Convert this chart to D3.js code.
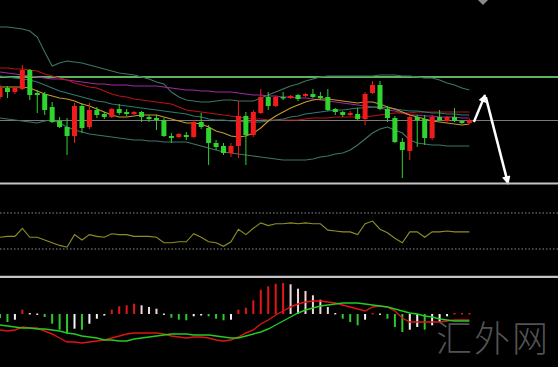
<!DOCTYPE html>
<html><head><meta charset="utf-8">
<script src="https://cdn.jsdelivr.net/npm/d3@7"></script>
<style>html,body{margin:0;padding:0;background:#000;}svg{display:block;}</style>
</head><body>
<svg id="c" width="558" height="367"></svg>
<script>
// ---- Candles (price units) ----
const open  = [103,112,108,111,130,107,106,93,79,73,64,94,73,90,86,83,91,88,86,88,83,82,80,64,63,65,63,78,72,57,54,47,54,84,65,87,103,94,103,102,105,104,106,104,103,91,88,85,86,81,107,115,91,82,58,49,83,81,62,83,79,83,79,77];
const high  = [115,114,113,135,131,110,108,98,83,82,97,97,97,93,88,92,96,91,89,89,85,85,82,67,67,68,80,87,75,60,57,57,99,88,90,111,108,104,108,105,106,107,111,108,111,92,89,89,92,108,119,119,94,84,62,85,85,85,85,90,84,92,80,81];
const low   = [101,102,106,110,100,87,85,77,72,45,57,67,71,82,81,82,85,84,85,78,78,70,63,57,62,60,62,71,35,50,45,43,42,35,63,86,90,93,100,101,99,103,102,100,89,85,83,84,80,75,106,90,78,57,22,40,53,55,60,79,78,78,76,76];
const close = [112,108,112,130,105,105,90,78,73,64,94,72,90,85,83,91,87,86,88,83,81,80,64,62,66,63,78,73,57,53,47,54,84,65,88,103,94,103,102,104,101,106,103,102,90,88,85,87,81,106,115,91,82,58,50,83,80,62,83,80,83,79,77,80];

// ---- Bands and moving averages ----
const bollUpper = [173,173,172,171,169,163,148,134,137,139,138,137,135,133,131,129,127,126,125,123,121,118,116,108,103,100,99,98,98,99,100,100,99,99,99,102,105,108,111,114,116,119,121,123,124,124,124,124,124,124,124,125,125,125,124,124,123,122,122,120,117,115,112,110];
const bollLower = [82,81,80,79,78,77,79,80,77,73,70,68,66,65,64,63,62,61,60,60,59,59,58,58,58,58,56,54,52,50,48,47,46,45,44,43,42,41,40,40,40,40,41,43,44,46,47,50,55,61,67,71,73,70,67,60,57,56,55,55,54,54,54,54];
const maRed    = [132,132,131,131,130,129,126,124,122,120,117,115,113,112,109,106,104,103,101,100,99,98,97,96,93,90,89,88,87,86,85,84,83,82,81,81,80,80,80,80,80,81,82,82,82,83,83,83,83,83,84,85,86,87,87,87,88,88,88,88,88,88,88,88];
const maPurple = [128,127,126,125,124,123,122,121,121,120,119,118,117,116,116,115,115,115,114,114,114,114,113,112,111,110,110,109,109,108,108,108,107,106,105,105,104,104,103,103,102,102,101,100,99,98,97,96,95,94,93,92,90,89,87,85,85,84,84,83,83,83,82,82];
const maTeal   = [124,123,122,121,120,118,115,112,109,107,105,103,101,99,98,96,95,94,93,92,91,90,89,88,87,86,84,83,81,80,80,79,79,78,78,78,79,80,81,83,84,86,87,88,89,90,90,91,92,92,93,93,92,91,90,89,89,88,87,87,86,86,85,85];
const maOrange = [113,113,113,113,112,109,106,104,102,101,99,96,94,91,88,85,83,83,84,85,85,85,83,81,79,77,77,76,73,69,67,64,63,64,67,72,79,84,88,92,95,98,100,101,101,100,99,98,97,98,98,96,93,91,88,85,83,81,79,78,77,76,75,76];

const resistLevel = 123;   // green horizontal
const lastPriceLevel = 79.5; // gray horizontal

// ---- RSI ----
const rsi = [43,44,44,53,43,43,40,37,34,32,46,40,46,44,43,47,46,46,44,44,44,43,37,37,38,38,47,43,38,37,33,38,52,46,53,59,56,58,58,59,58,59,58,58,51,50,49,49,46,58,61,52,48,42,37,49,49,43,49,49,50,49,49,49];
const rsiLevels = [70,30];

// ---- MACD ----
const macdHist = [-4,-8,-5.7,4.3,1,0.5,-3,-9.7,-15.7,-19.7,-14.7,-15.7,-9.7,-4.7,-1.5,4.3,7.7,8.7,10.3,8.7,7,5.3,0.5,-3.7,-5.7,-6.3,-2.3,-0.5,-2.3,-4.7,-6.3,-5.7,4.3,6.3,13.7,24.3,27.7,30.3,31,29.7,25.3,23,18.7,14.3,7,1,-4.7,-8,-11.3,-5.7,1,0.5,-4.7,-13,-18,-15.7,-13,-15.7,-11.3,-8,-2.3,1,1,1];
const macdDif = [-16,-17,-16,-13,-14,-14,-17,-20,-24,-28,-28,-29,-28,-27,-26,-24,-22,-20,-19,-19,-19,-19,-20,-22,-23,-24,-23,-23,-24,-26,-27,-26,-23,-19,-16,-10,-6,-1,3,7,10,12,13,13,12,11,9,7,5,3,7,8,7,3,-4,-8,-8,-8,-8,-8,-7,-6,-6,-6];
const macdDea = [-11,-12,-13,-14,-14,-15,-15,-16,-17,-19,-20,-22,-23,-24,-26,-26,-27,-27,-25,-24,-23,-22,-21,-20,-20,-20,-21,-21,-21,-22,-23,-24,-24,-22,-20,-18,-15,-11,-7,-3,1,4,6,8,9,10,11,11,11,10,9,8,7,5,3,1,0,-2,-3,-5,-6,-7,-7,-7];

// ---- Annotation arrows (bar index, price) ----
const arrowUp   = [[63.6, 78], [65.1, 105]];
const arrowDown = [[65.2, 103], [68.2, 16]];
const watermark = "汇外网";

// ================= drawing =================
const W = 558, H = 367;
const svg = d3.select("#c");
svg.append("rect").attr("width", W).attr("height", H).attr("fill", "#000");

const n = close.length;
const x = d3.scaleLinear().domain([0, n - 1]).range([0, 469.4]);
const y = d3.scaleLinear().domain([17, 200]).range([183, 0]);
const yR = d3.scaleLinear().domain([0, 100]).range([276, 186]);
const yM = d3.scaleLinear().domain([-52, 36]).range([366, 278]);

const defs = svg.append("defs");
defs.append("clipPath").attr("id", "mainClip").append("rect").attr("x", 0).attr("y", 0).attr("width", W).attr("height", 182);

const main = svg.append("g").attr("clip-path", "url(#mainClip)");

// horizontal level lines
main.append("line").attr("x1", 0).attr("x2", W).attr("y1", y(resistLevel)).attr("y2", y(resistLevel))
  .attr("stroke", "#5fb35f").attr("stroke-width", 2.2);
main.append("line").attr("x1", 0).attr("x2", W).attr("y1", y(lastPriceLevel)).attr("y2", y(lastPriceLevel))
  .attr("stroke", "#7a7a7a").attr("stroke-width", 1.2);

const line = (yy) => d3.line().x((d, i) => x(i)).y(d => yy(d));
const lines = [
  [bollUpper, "#3f7563"],
  [bollLower, "#3f7563"],
  [maPurple, "#a02aa0"],
  [maRed, "#b51414"],
  [maTeal, "#2e7a6e"],
  [maOrange, "#c99a2e"]
];
lines.forEach(([arr, col]) => {
  main.append("path").datum(arr).attr("d", line(y)).attr("fill", "none")
    .attr("stroke", col).attr("stroke-width", 1.1);
});

// candles
const UP = "#f01c1c", DOWN = "#2fd42f";
const candles = d3.range(n).map(i => ({i, o: open[i], h: high[i], l: low[i], c: close[i]}));
const cg = main.append("g");
cg.selectAll("line.wick").data(candles).join("line")
  .attr("x1", d => x(d.i)).attr("x2", d => x(d.i))
  .attr("y1", d => y(d.h)).attr("y2", d => y(d.l))
  .attr("stroke", d => d.c >= d.o ? UP : DOWN).attr("stroke-width", 1);
const bw = 5;
cg.selectAll("rect.body").data(candles).join("rect")
  .attr("x", d => x(d.i) - bw / 2).attr("width", bw)
  .attr("y", d => y(Math.max(d.o, d.c)))
  .attr("height", d => Math.max(1.5, Math.abs(y(d.o) - y(d.c))))
  .attr("fill", d => d.c >= d.o ? UP : DOWN);

// arrows
defs.append("marker").attr("id", "ah").attr("viewBox", "0 0 10 10").attr("refX", 9).attr("refY", 5)
  .attr("markerWidth", 3.8).attr("markerHeight", 3.3).attr("orient", "auto")
  .append("path").attr("d", "M0,0 L10,5 L0,10 Z").attr("fill", "#fff");
const arrowLine = d3.line().x(d => x(d[0])).y(d => y(d[1]));
svg.append("path").datum(arrowUp).attr("d", arrowLine).attr("stroke", "#fff").attr("stroke-width", 2.4)
  .attr("fill", "none").attr("marker-end", "url(#ah)");
svg.append("path").datum(arrowDown).attr("d", arrowLine).attr("stroke", "#fff").attr("stroke-width", 2.6)
  .attr("fill", "none").attr("marker-end", "url(#ah)");

// little marker at the top
svg.append("path").attr("d", "M478,0 L488,0 L483,5 Z").attr("fill", "#8a8a8a");

// panel separators
svg.append("line").attr("x1", 0).attr("x2", W).attr("y1", 183.5).attr("y2", 183.5).attr("stroke", "#c4c4c4").attr("stroke-width", 2.2);
svg.append("line").attr("x1", 0).attr("x2", W).attr("y1", 276.8).attr("y2", 276.8).attr("stroke", "#c4c4c4").attr("stroke-width", 2.2);

// RSI panel
rsiLevels.forEach(v => {
  svg.append("line").attr("x1", 0).attr("x2", W).attr("y1", yR(v)).attr("y2", yR(v))
    .attr("stroke", "#8a8a8a").attr("stroke-width", 1).attr("stroke-dasharray", "1.5,2");
});
svg.append("path").datum(rsi).attr("d", line(yR)).attr("fill", "none").attr("stroke", "#8e8e26").attr("stroke-width", 1.1);

// MACD histogram
const histColor = (v, i) => {
  const p = i > 0 ? macdHist[i - 1] : v;
  if (v >= 0) return v >= p ? "#e01818" : "#f2d6d6";
  return v <= p ? "#2ec82e" : "#f4f4f4";
};
svg.append("g").selectAll("rect").data(macdHist).join("rect")
  .attr("x", (d, i) => x(i) - 1).attr("width", 2)
  .attr("y", d => Math.min(yM(d), yM(0)))
  .attr("height", d => Math.max(1.5, Math.abs(yM(d) - yM(0))))
  .attr("fill", (d, i) => histColor(d, i));
svg.append("path").datum(macdDif).attr("d", line(yM)).attr("fill", "none").attr("stroke", "#e01414").attr("stroke-width", 1.4);
svg.append("path").datum(macdDea).attr("d", line(yM)).attr("fill", "none").attr("stroke", "#22cc22").attr("stroke-width", 1.4);

// watermark
svg.append("text").attr("x", 436).attr("y", 352).text(watermark)
  .attr("font-family", "'Noto Sans CJK SC', sans-serif").attr("font-size", 36).attr("font-weight", 300)
  .attr("fill", "#5e5e5e").attr("fill-opacity", 0.9).attr("letter-spacing", 2);
</script>
</body></html>
